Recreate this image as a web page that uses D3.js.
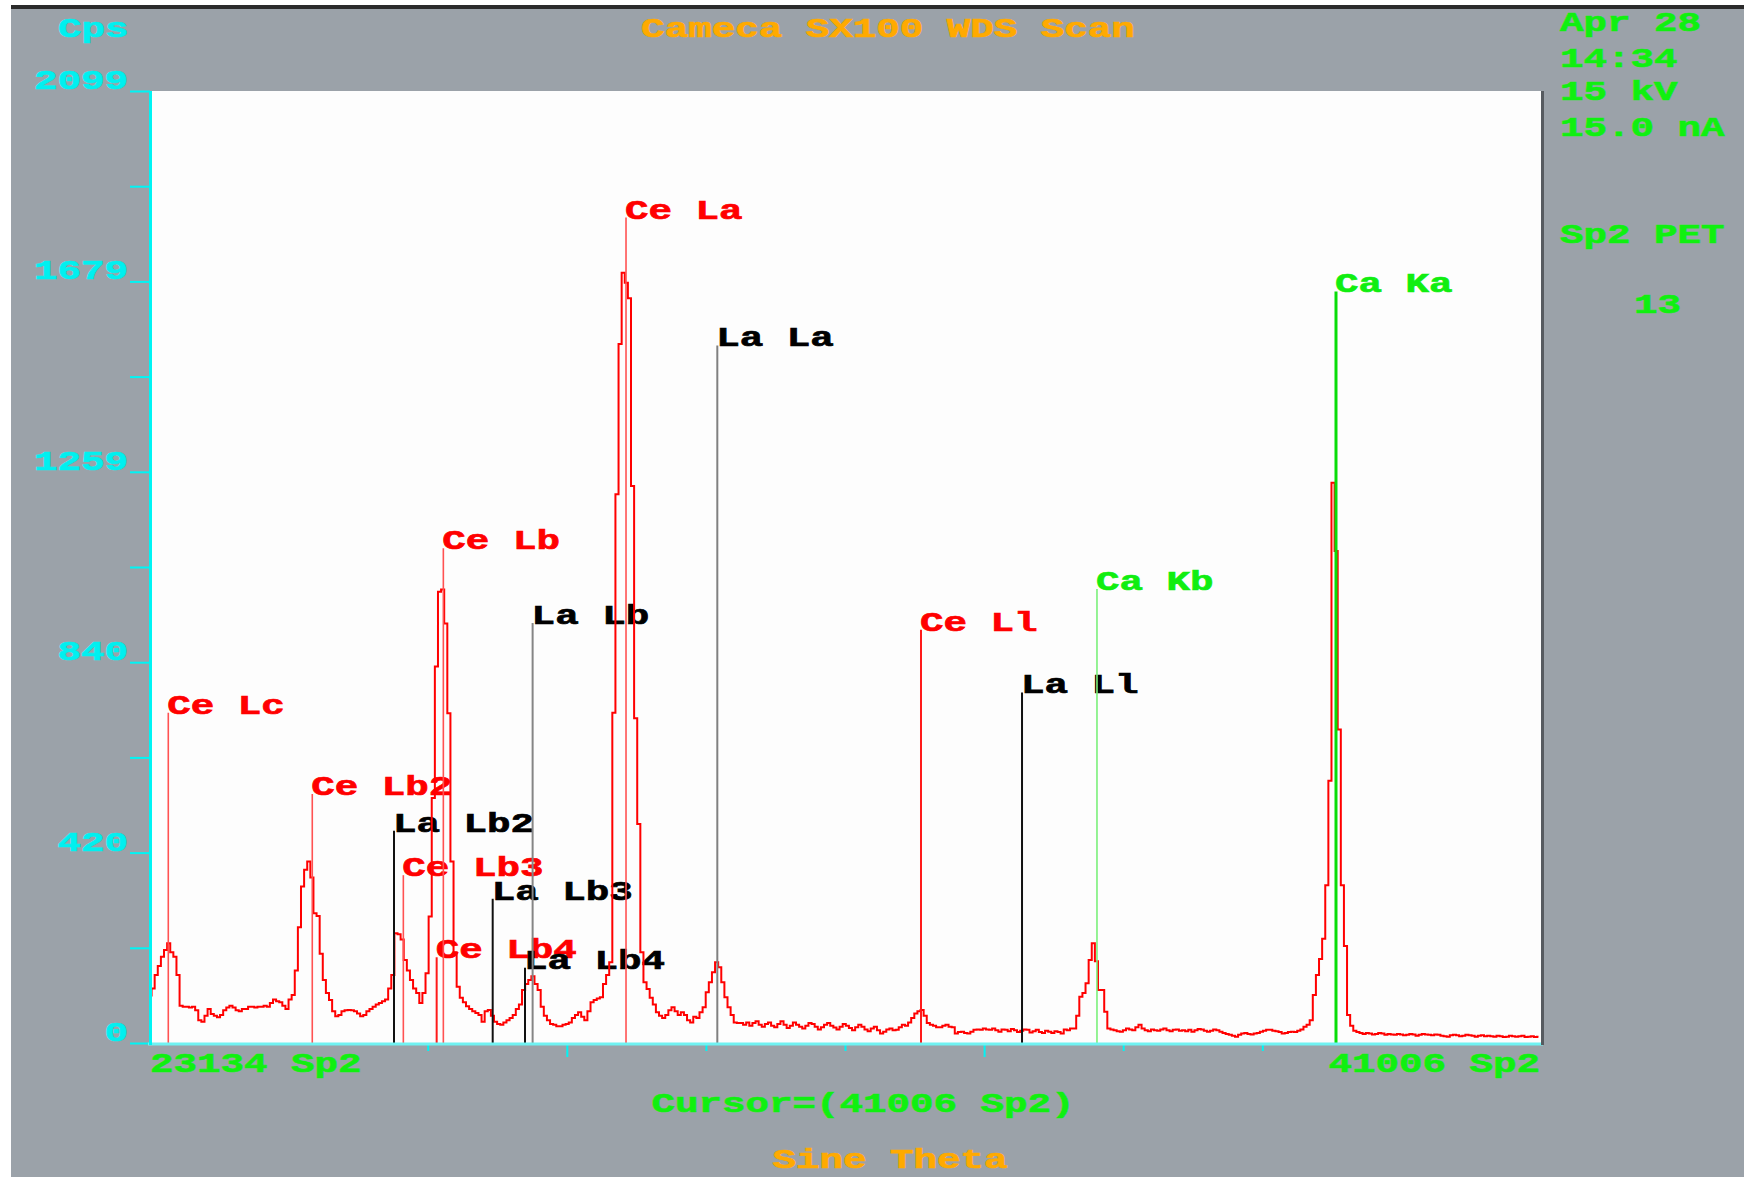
<!DOCTYPE html>
<html>
<head>
<meta charset="utf-8">
<script src="https://cdn.jsdelivr.net/npm/d3@7"></script>
<style>
  html, body { margin: 0; padding: 0; background: #ffffff; }
  svg { display: block; }
  text { font-family: "Liberation Mono", "DejaVu Sans Mono", monospace; font-weight: bold; }
</style>
</head>
<body>
<svg id="chart" width="1744" height="1177"></svg>
<script>
// ---- WDS scan: spectrometer 2, PET crystal ----
const scanStart = 23134;   // sine theta at first channel
const scanEnd = 41006;     // sine theta at last channel
const scanStep = 40;       // sine theta per channel
const cpsMax = 2099;

// counts per second, one value per channel
const counts = [
  105,120,150,170,190,205,220,200,190,150,
  82,80,80,78,80,72,50,47,60,75,
  64,60,57,62,72,78,82,78,72,70,
  75,75,80,80,78,80,80,82,80,88,
  96,92,90,82,75,96,106,160,255,345,
  382,400,365,286,280,197,139,110,95,70,
  59,62,70,72,73,72,70,65,59,62,
  70,75,80,85,88,92,96,120,150,242,
  240,228,183,160,139,120,110,88,110,154,
  279,540,830,995,1000,925,727,400,200,124,
  100,90,81,75,70,66,62,47,70,73,
  60,47,42,40,45,50,55,62,75,85,
  117,130,139,147,130,117,80,60,50,42,
  40,37,37,40,42,45,55,62,68,58,
  50,70,90,95,98,101,130,150,178,728,
  1210,1541,1698,1676,1642,1228,716,483,200,134,
  119,100,85,68,60,55,62,72,79,70,
  62,68,62,50,45,58,55,68,79,112,
  134,156,178,167,134,101,79,62,45,44,
  44,40,45,38,44,48,40,36,42,45,
  38,35,42,48,40,33,38,45,40,36,
  32,38,44,42,36,30,35,40,44,38,
  34,30,36,42,38,33,28,35,40,36,
  30,26,32,36,28,21,25,30,32,28,
  29,35,40,38,45,55,65,70,73,60,
  44,40,38,35,35,38,40,36,35,21,
  24,25,22,21,25,29,30,29,32,30,
  29,32,28,25,30,29,26,31,28,24,
  27,30,29,23,26,29,24,22,27,25,
  22,26,24,21,30,28,32,32,60,102,
  110,132,183,220,180,117,117,69,32,30,
  28,26,25,28,32,30,28,35,40,32,
  28,26,30,28,27,30,32,28,26,29,
  30,27,28,26,29,25,28,31,30,27,
  25,27,30,28,25,22,20,18,16,14,
  18,21,22,20,19,21,22,25,27,29,
  29,27,26,24,21,22,24,25,24,27,
  30,36,40,50,106,150,185,230,348,578,
  1235,1085,691,348,214,62,38,27,24,22,
  20,22,21,19,20,22,21,18,20,19,
  18,20,19,17,18,20,19,16,18,20,
  19,18,17,19,18,16,15,14,17,18,
  17,15,16,18,17,16,14,16,17,15,
  16,15,14,16,15,13,14,16,15,14,
  15,16,13,14,15,13,14
];

// identified X-ray lines: label, sine theta position, marker height (cps)
const lineLabels = ["Ce Lc","Ce Lb2","La Lb2","Ce Lb3","Ce Lb4","Ce Lb","La Lb3","La Lb4","La Lb","Ce La","La La","Ce Ll","La Ll","Ca Kb","Ca Ka"];
const lineSine   = [23369, 25219, 26269, 26389, 26817, 26903, 27537, 27952, 28050, 29250, 30423, 33040, 34338, 35301, 38372];
const lineCps    = [728, 549, 468, 370, 189, 1091, 318, 166, 926, 1820, 1538, 911, 773, 1001, 1657];

// axis text
const yTickLabels = ["0", "420", "840", "1259", "1679", "2099"];
const xEndLabels = ["23134 Sp2", "41006 Sp2"];
const cursorLabel = "Cursor=(41006 Sp2)";
const xAxisTitle = "Sine Theta";
const yAxisTitle = "Cps";
const chartTitle = "Cameca SX100 WDS Scan";
const conditions = ["Apr 28", "14:34", "15 kV", "15.0 nA"];
const spectrometer = ["Sp2 PET", "13"];

// ---- layout & styles ----
const W = 1744, H = 1177;
const plot = { left: 150, right: 1541, top: 91, bottom: 1043 };
const FONT = 28, STRETCH = 1.4;
const colors = {
  bg: "#9ba2a9", frame: "#2b2b2b", axis: "#00f4f4", axisBottom: "#6ff2f2",
  title: "#ffaa00", info: "#10f010", cps: "#00f0f0",
  Ce: "#ff0000", La: "#000000", Ca: "#10ee10", trace: "#ff0000"
};
const markerStroke = {
  Ce: { stroke: "#ff5252", width: 1.6 },
  La: { stroke: "#111111", width: 2 },
  Ca: { stroke: "#7af07a", width: 1.6 }
};
const markerOverride = {
  "La La": { stroke: "#808080", width: 2 },
  "La Lb": { stroke: "#858585", width: 2 },
  "Ce Ll": { stroke: "#ff1a1a", width: 2 },
  "Ce Lb4": { stroke: "#ff1a1a", width: 2 },
  "Ca Ka": { stroke: "#08dd08", width: 3 }
};

const svg = d3.select("#chart");

// window background with white margin and dark top rule
svg.append("rect").attr("x", 0).attr("y", 0).attr("width", W).attr("height", H).attr("fill", "#ffffff");
svg.append("rect").attr("x", 11).attr("y", 6).attr("width", W - 11).attr("height", H - 6).attr("fill", colors.bg);
svg.append("rect").attr("x", 11).attr("y", 5).attr("width", W - 11).attr("height", 4).attr("fill", colors.frame);

// plotting field
svg.append("rect")
  .attr("x", plot.left).attr("y", plot.top)
  .attr("width", plot.right - plot.left).attr("height", plot.bottom - plot.top)
  .attr("fill", "#fdfdfd");

const x = d3.scaleLinear().domain([scanStart, scanEnd]).range([plot.left, plot.right]);
const y = d3.scaleLinear().domain([0, cpsMax]).range([plot.bottom, plot.top]);

// wide, heavy terminal-style lettering
function stretchedText(g, str, tx, ty, fill, anchor) {
  return g.append("text")
    .attr("transform", `translate(${tx},${ty}) scale(${STRETCH},1)`)
    .attr("text-anchor", anchor || "start")
    .attr("fill", fill)
    .attr("stroke", fill)
    .attr("stroke-width", 0.7)
    .style("font-size", FONT + "px")
    .text(str);
}

// ---- y axis: ten divisions, every second one labelled ----
const yTicks = d3.range(11).map(k => cpsMax * k / 10);
const yAxis = d3.axisLeft(y).tickValues(yTicks).tickSize(20).tickSizeOuter(0).tickFormat("");
const gy = svg.append("g").attr("transform", `translate(${plot.left},0)`).call(yAxis);
gy.select(".domain").remove();
gy.selectAll(".tick line").attr("stroke", colors.axis).attr("stroke-width", 2);

const gyl = svg.append("g");
yTickLabels.forEach((t, k) => {
  stretchedText(gyl, t, 128, y(yTicks[k * 2]) - 2, colors.cps, "end");
});

// ---- x axis: minor division ticks below the baseline ----
const xTickFrac = [0.2, 0.3, 0.4, 0.5, 0.6, 0.7, 0.8];
const xMajorFrac = [0.3, 0.6];
const gx = svg.append("g");
xTickFrac.forEach(f => {
  const v = scanStart + f * (scanEnd - scanStart);
  const len = xMajorFrac.includes(f) ? 12 : 6;
  gx.append("line")
    .attr("x1", x(v)).attr("x2", x(v))
    .attr("y1", plot.bottom).attr("y2", plot.bottom + 2 + len)
    .attr("stroke", colors.axis).attr("stroke-width", 2);
});

// ---- line markers: labels sit beneath the trace ----
const lines = lineLabels.map((lab, i) => ({
  label: lab, el: lab.split(" ")[0], s: lineSine[i], c: lineCps[i]
}));
const gLab = svg.append("g");
lines.forEach(d => {
  stretchedText(gLab, d.label, x(d.s) - 1, y(d.c) + 1, colors[d.el], "start");
});

// ---- spectrum trace ----
const trace = d3.line()
  .x((d, i) => x(scanStart + i * scanStep))
  .y(d => y(d))
  .curve(d3.curveStep);
svg.append("path")
  .datum(counts)
  .attr("d", trace)
  .attr("fill", "none")
  .attr("stroke", colors.trace)
  .attr("stroke-width", 2)
  .attr("stroke-linejoin", "miter");

// ---- marker stems drawn over the trace ----
const gStem = svg.append("g");
lines.forEach(d => {
  const st = markerOverride[d.label] || markerStroke[d.el];
  gStem.append("line")
    .attr("x1", x(d.s)).attr("x2", x(d.s))
    .attr("y1", plot.bottom).attr("y2", y(d.c))
    .attr("stroke", st.stroke).attr("stroke-width", st.width);
});

// ---- frame lines ----
svg.append("line")
  .attr("x1", plot.left - 2).attr("x2", plot.right + 2)
  .attr("y1", plot.bottom + 1).attr("y2", plot.bottom + 1)
  .attr("stroke", colors.axisBottom).attr("stroke-width", 3);
svg.append("line")
  .attr("x1", plot.left + 0.5).attr("x2", plot.left + 0.5)
  .attr("y1", plot.top).attr("y2", plot.bottom + 2)
  .attr("stroke", colors.axis).attr("stroke-width", 3);
svg.append("line")
  .attr("x1", plot.right + 1.5).attr("x2", plot.right + 1.5)
  .attr("y1", plot.top).attr("y2", plot.bottom + 2)
  .attr("stroke", "#575b60").attr("stroke-width", 3);

// ---- titles and info panel ----
const gt = svg.append("g");
stretchedText(gt, yAxisTitle, 58, 37, colors.cps, "start");
stretchedText(gt, chartTitle, 888, 37, colors.title, "middle");
const infoY = [31, 67, 100, 136];
conditions.forEach((t, i) => stretchedText(gt, t, 1560, infoY[i], colors.info, "start"));
stretchedText(gt, spectrometer[0], 1560, 243, colors.info, "start");
stretchedText(gt, spectrometer[1], 1634, 313, colors.info, "start");

stretchedText(gt, xEndLabels[0], 150, 1072, colors.info, "start");
stretchedText(gt, xEndLabels[1], 1540, 1072, colors.info, "end");
stretchedText(gt, cursorLabel, 863, 1112, colors.info, "middle");
stretchedText(gt, xAxisTitle, 890, 1168, colors.title, "middle");
</script>
</body>
</html>
